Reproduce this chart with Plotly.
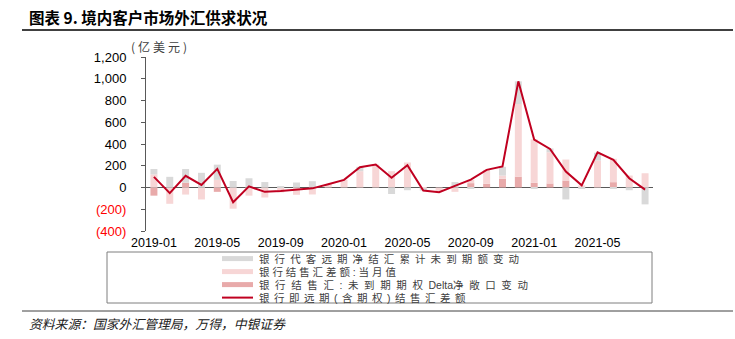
import plotly.graph_objects as go

# ---------------- data ----------------
months = [f"{y}-{m:02d}" for y in (2019, 2020, 2021) for m in range(1, 13)][:32]

# 银行代客远期净结汇累计未到期额变动 (grey)
fwd_change = [50, 98, 125, 135, 140, 60, 85, 50, 12, 46, 58, 0,
              0, 40, 0, -60, -25, -18, 0, 50, -5, 0, 80, 208,
              -5, 35, -110, -5, 72, -10, -25, -155]
# 银行结售汇差额:当月值 (light pink)
spot_balance = [120, -150, -65, -110, 70, -195, -75, -92, -45, -67, -64, 32,
                70, 150, 211, 150, 230, -10, -43, -40, 30, 127, 30, 668,
                400, 287, 193, 20, 248, 215, 110, 131]
# 银行结售汇:未到期期权Delta净敞口变动 (darker pink)
delta_change = [-75, 0, 45, 0, -40, 0, 0, 0, 0, 0, 0, 0,
                0, 0, 0, 0, 0, 0, 0, 0, 40, 35, 80, 100,
                43, 37, 64, 0, 0, 49, 0, 0]
# 银行即远期(含期权)结售汇差额 (line)
total_line = [98, -52, 107, 24, 171, -135, 10, -40, -33, -22, -8, 30,
              70, 187, 211, 89, 205, -28, -43, 15, 73, 162, 193, 976,
              441, 355, 147, 20, 324, 254, 85, -20]

y_ticks = [-400, -200, 0, 200, 400, 600, 800, 1000, 1200]
x_ticks = months[::4]

names = ["银行代客远期净结汇累计未到期额变动",
         "银行结售汇差额:当月值",
         "银行结售汇:未到期期权Delta净敞口变动",
         "银行即远期(含期权)结售汇差额"]

C_GREY = "#D9D9D9"
C_LPINK = "#F7D6D6"
C_DPINK = "#E8AAAA"
C_RED = "#C00020"

# ---------------- geometry helpers ----------------
L, R, T, B = 146, 82, 57, 108
W, H = 735, 339
PW, PH = W - L - R, H - T - B


def px(x):
    return (x - L) / PW


def py(y):
    return (H - B - y) / PH


fig = go.Figure()
fig.add_trace(go.Bar(x=months, y=delta_change, marker_color=C_DPINK,
                     marker_line_width=0, name=names[2], showlegend=False))
fig.add_trace(go.Bar(x=months, y=spot_balance, marker_color=C_LPINK,
                     marker_line_width=0, name=names[1], showlegend=False))
fig.add_trace(go.Bar(x=months, y=fwd_change, marker_color=C_GREY,
                     marker_line_width=0, name=names[0], showlegend=False))
fig.add_trace(go.Scatter(x=months, y=total_line, mode="lines",
                         line=dict(color=C_RED, width=2), name=names[3],
                         showlegend=False))


def fmt(v):
    if v < 0:
        return f'<span style="color:#FF0000">({abs(v):,})</span>'
    return f"{v:,}"


fig.update_layout(
    width=W, height=H,
    margin=dict(l=L, r=R, t=T, b=B),
    paper_bgcolor="white", plot_bgcolor="white",
    barmode="relative", bargap=0.56,
    showlegend=False,
    font=dict(family="Liberation Sans, Arial, sans-serif", color="#000000"),
    xaxis=dict(type="category", range=[-0.5, 31.5], tickvals=x_ticks,
               ticktext=x_ticks, showline=False, showgrid=False,
               zeroline=False, ticks="", tickfont=dict(size=12.5, color="#000"),
               ticklabelstandoff=2),
    yaxis=dict(range=[-400, 1200], tickvals=y_ticks,
               ticktext=[fmt(v) for v in y_ticks], showgrid=False,
               showline=True, linecolor="#595959", linewidth=1,
               ticks="outside", ticklen=4, tickcolor="#595959",
               zeroline=True, zerolinecolor="#595959", zerolinewidth=1,
               tickfont=dict(size=13, color="#000"), ticklabelstandoff=12),
)

CJK = "Noto Sans CJK SC, sans-serif"
ann = []
shapes = []

# title
ann.append(dict(x=px(27), y=py(17), xref="paper", yref="paper",
                text="<b>图表 9. 境内客户市场外汇供求状况</b>", showarrow=False,
                xanchor="left", yanchor="middle",
                font=dict(family=CJK, size=15.5, color="#000")))
shapes.append(dict(type="line", xref="paper", yref="paper",
                   x0=px(22), x1=px(733), y0=py(30), y1=py(30),
                   line=dict(color="#000", width=1.5)))
# unit label
ann.append(dict(x=px(160), y=py(47), xref="paper", yref="paper",
                text='<span style="letter-spacing:3px">(亿美元)</span>',
                showarrow=False, xanchor="center",
                yanchor="middle", font=dict(family=CJK, size=12, color="#404040")))
# source
shapes.append(dict(type="line", xref="paper", yref="paper",
                   x0=px(22), x1=px(733), y0=py(311), y1=py(311),
                   line=dict(color="#404040", width=1)))
ann.append(dict(x=px(27), y=py(323), xref="paper", yref="paper",
                text="<i>资料来源：国家外汇管理局，万得，中银证券</i>",
                showarrow=False, xanchor="left", yanchor="middle",
                font=dict(family=CJK, size=12.8, color="#202020")))

# manual legend (box + symbols as shapes, texts as one block)
shapes.append(dict(type="rect", xref="paper", yref="paper",
                   x0=px(107), x1=px(652), y0=py(252), y1=py(303),
                   line=dict(color="#7F7F7F", width=1)))
rows = [258.6, 271.6, 284.6, 297.6]
colors = [C_GREY, C_LPINK, C_DPINK, C_RED]
for i, (ry, col) in enumerate(zip(rows, colors)):
    if i < 3:
        shapes.append(dict(type="rect", xref="paper", yref="paper",
                           x0=px(222), x1=px(253), y0=py(ry - 2.5), y1=py(ry + 2.5),
                           fillcolor=col, line=dict(width=0)))
    else:
        shapes.append(dict(type="line", xref="paper", yref="paper",
                           x0=px(222), x1=px(253), y0=py(ry), y1=py(ry),
                           line=dict(color=col, width=2)))


def sp(text, ls):
    return f'<span style="font-size:10.5px;letter-spacing:{ls}px">{text}</span>'


leg_lines = [
    sp(names[0], 5.1),
    sp(names[1], 2.9),
    sp("银行结售汇:未到期期权", 5.6) + sp("Delta", 0) + sp("净敞口变动", 5.6),
    sp(names[3], 4.5),
]
ann.append(dict(x=px(257), y=py(sum(rows) / 4), xref="paper", yref="paper",
                text="<br>".join(leg_lines), showarrow=False, xanchor="left",
                yanchor="middle", align="left",
                font=dict(family="Liberation Sans, Noto Sans CJK SC, sans-serif",
                          size=10, color="#404040")))

fig.update_layout(annotations=ann, shapes=shapes)
fig.write_html("out.html")
